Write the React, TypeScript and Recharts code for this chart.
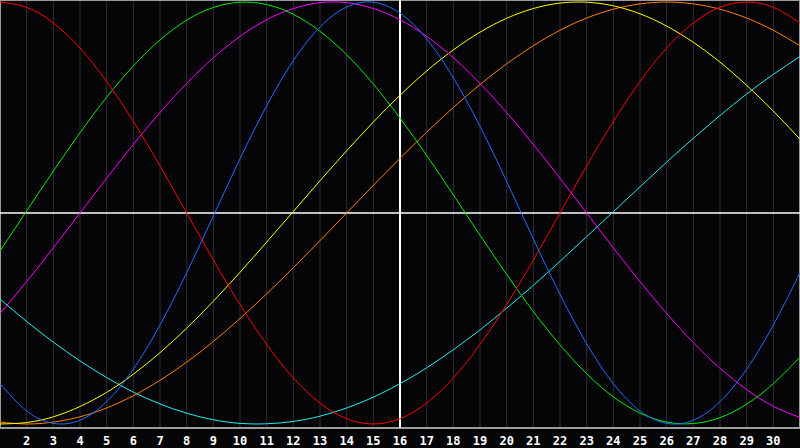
import {
  LineChart,
  Line,
  XAxis,
  YAxis,
  CartesianGrid,
  ReferenceLine,
  ReferenceArea
} from "recharts"

const days = [
  1, 2, 3, 4, 5, 6, 7, 8, 9, 10, 11, 12, 13, 14, 15, 16,
  17, 18, 19, 20, 21, 22, 23, 24, 25, 26, 27, 28, 29, 30, 31
]

const dayTicks = days.slice(1, 30)

// cycle values, -100..100, one per day
const physical = [
  -80.9, -93.8, -99.7, -98.2, -89.4, -74.0, -53.1, -28.3, -1.4, 25.7, 50.8,
  72.2, 88.2, 97.6, 99.9, 94.7, 82.5, 64.1, 41.1, 15.0, -12.3, -38.6,
  -62.0, -80.9, -93.8, -99.7, -98.2, -89.4, -74.0, -53.1, -28.3
]
const emotional = [
  100, 97.5, 90.1, 78.2, 62.3, 43.4, 22.3, 0, -22.3, -43.4, -62.3,
  -78.2, -90.1, -97.5, -100, -97.5, -90.1, -78.2, -62.3, -43.4, -22.3, 0,
  22.3, 43.4, 62.3, 78.2, 90.1, 97.5, 100, 97.5, 90.1
]
const intellectual = [
  -18.0, 1.0, 19.9, 38.0, 54.9, 69.7, 82.0, 91.4, 97.4, 99.9, 98.8,
  94.2, 86.1, 75.0, 61.1, 45.0, 27.3, 8.6, -10.5, -29.1, -46.7, -62.5,
  -76.2, -87.1, -94.8, -99.1, -99.8, -97.0, -90.6, -80.9, -68.3
]
const intuitive = [
  -47.6, -32.5, -16.5, 0, 16.5, 32.5, 47.6, 61.4, 73.6, 83.7, 91.6,
  96.9, 99.7, 99.7, 96.9, 91.6, 83.7, 73.6, 61.4, 47.6, 32.5, 16.5,
  0, -16.5, -32.5, -47.6, -61.4, -73.6, -83.7, -91.6, -96.9
]
const aesthetic = [
  -100, -99.3, -96.6, -91.7, -85.0, -76.4, -66.2, -54.6, -41.8, -28.1, -13.8,
  0.7, 15.3, 29.5, 43.1, 55.8, 67.3, 77.3, 85.7, 92.3, 96.9, 99.5,
  99.9, 98.2, 94.4, 88.6, 80.9, 71.5, 60.5, 48.3, 35.0
]
const awareness = [
  -99.1, -100, -99.1, -96.6, -92.4, -86.6, -79.3, -70.7, -60.9, -50.0, -38.3,
  -25.9, -13.1, 0, 13.1, 25.9, 38.3, 50.0, 60.9, 70.7, 79.3, 86.6,
  92.4, 96.6, 99.1, 100, 99.1, 96.6, 92.4, 86.6, 79.3
]
const spiritual = [
  -40.8, -51.4, -61.2, -70.1, -78.0, -84.9, -90.5, -94.9, -98.0, -99.7, -99.9,
  -98.8, -96.3, -92.4, -87.3, -80.9, -73.4, -64.8, -55.4, -45.1, -34.3, -22.9,
  -11.2, 0.6, 12.4, 24.1, 35.4, 46.2, 56.4, 65.7, 74.2
]

const data = days.map((day, i) => ({
  day,
  physical: physical[i],
  emotional: emotional[i],
  intellectual: intellectual[i],
  intuitive: intuitive[i],
  aesthetic: aesthetic[i],
  awareness: awareness[i],
  spiritual: spiritual[i],
}))

const series = [
  { key: "spiritual", color: "#22eeee" },
  { key: "awareness", color: "#ff7f00" },
  { key: "aesthetic", color: "#ffff00" },
  { key: "intuitive", color: "#ff00ff" },
  { key: "intellectual", color: "#00ee00" },
  { key: "emotional", color: "#ff0000" },
  { key: "physical", color: "#1e6eff" },
]

const App = () => {
  return (
    <div style={{ position: "absolute", left: 0, top: 0, width: 800, height: 448, background: "#050508" }}>
      <LineChart
        width={800}
        height={448}
        data={data}
        margin={{ top: 0, right: 0, left: 0, bottom: 0 }}
      >
        {/* day grid */}
        <CartesianGrid horizontal={false} stroke="#2e2e33" />
        <ReferenceArea
          x1={1}
          x2={31}
          y1={-101.9}
          y2={100.95}
          fill="none"
          stroke="#9a9a9a"
          strokeWidth={2}
          ifOverflow="visible"
        />
        <XAxis
          dataKey="day"
          type="number"
          domain={[1, 31]}
          ticks={dayTicks}
          interval={0}
          height={20}
          axisLine={{ stroke: "#a0a0a0" }}
          tickLine={false}
          tickSize={6}
          tick={{ fill: "#ffffff", fontSize: 12, fontWeight: "bold", fontFamily: "DejaVu Sans Mono" }}
        />
        <YAxis hide domain={[-101.9, 100.95]} allowDataOverflow />
        {/* today + zero line */}
        <ReferenceLine x={16} stroke="#ffffff" strokeWidth={2} />
        <ReferenceLine y={0} stroke="#ffffff" strokeWidth={1.5} />
        {series.map((s) => (
          <Line
            key={s.key}
            type="natural"
            dataKey={s.key}
            stroke={s.color}
            strokeWidth={1}
            dot={false}
            activeDot={false}
            isAnimationActive={false}
          />
        ))}
      </LineChart>
    </div>
  )
}

export default App
